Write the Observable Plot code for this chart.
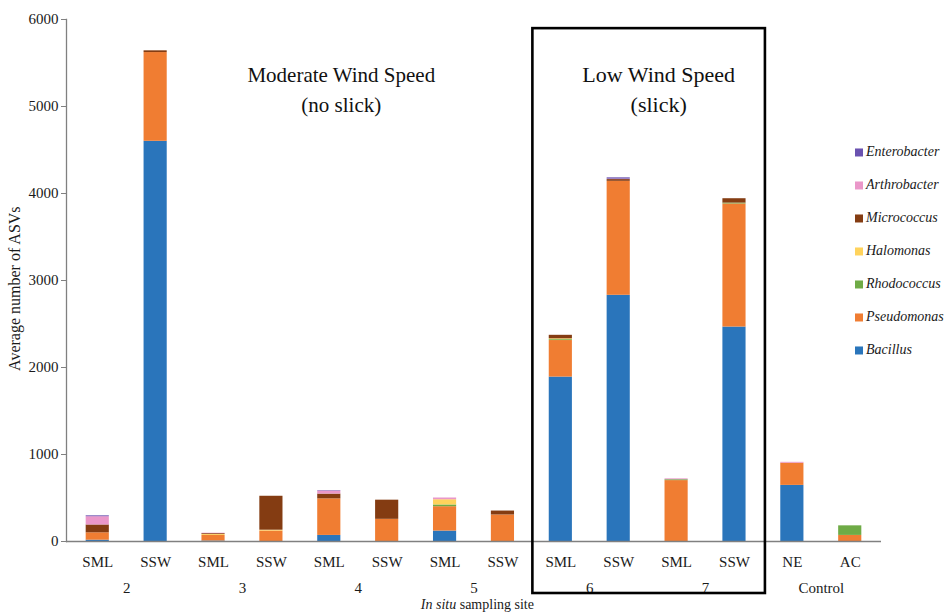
<!DOCTYPE html>
<html>
<head>
<meta charset="utf-8">
<script src="https://cdn.jsdelivr.net/npm/d3@7"></script>
<script src="https://cdn.jsdelivr.net/npm/@observablehq/plot@0.6"></script>
<style>
  html, body { margin: 0; padding: 0; background: #fff; }
  #chart svg { display: block; }
  #chart svg text, #chart svg tspan { font-family: 'Liberation Serif', serif !important; }
</style>
</head>
<body>
<div id="chart"></div>
<script>
// ---- Data ----
const samples = ["2-SML","2-SSW","3-SML","3-SSW","4-SML","4-SSW","5-SML","5-SSW","6-SML","6-SSW","7-SML","7-SSW","C-NE","C-AC"];
const sampleLabels = ["SML","SSW","SML","SSW","SML","SSW","SML","SSW","SML","SSW","SML","SSW","NE","AC"];
const siteLabels = ["2","3","4","5","6","7","Control"];
const siteFirst = ["2-SML","3-SML","4-SML","5-SML","6-SML","7-SML","C-NE"];
const genera = ["Bacillus","Pseudomonas","Rhodococcus","Halomonas","Micrococcus","Arthrobacter","Enterobacter"];
const colors = ["#2a75bb","#f07d32","#6fab46","#ffd35c","#843c12","#ea97c9","#6a52b0"];

const bacillus     = [15, 4600, 5, 0, 70, 0, 120, 0, 1890, 2830, 0, 2465, 645, 0];
const pseudomonas  = [85, 1020, 65, 120, 420, 255, 280, 305, 420, 1310, 700, 1415, 255, 70];
const rhodococcus  = [0, 0, 0, 0, 0, 0, 20, 0, 10, 0, 10, 10, 0, 110];
const halomonas    = [0, 0, 10, 10, 0, 0, 60, 0, 10, 0, 0, 0, 0, 0];
const micrococcus  = [90, 20, 10, 390, 55, 220, 0, 45, 40, 20, 0, 50, 0, 0];
const arthrobacter = [95, 0, 5, 0, 35, 0, 20, 0, 0, 5, 10, 0, 10, 0];
const enterobacter = [10, 0, 0, 0, 5, 0, 0, 0, 0, 15, 0, 0, 0, 0];
const yTicks = [0, 1000, 2000, 3000, 4000, 5000, 6000];

const seriesValues = [bacillus, pseudomonas, rhodococcus, halomonas, micrococcus, arthrobacter, enterobacter];
const rows = [];
genera.forEach((g, gi) => samples.forEach((s, si) => rows.push({sample: s, genus: g, value: seriesValues[gi][si]})));

const labelOf = new Map(samples.map((s, i) => [s, sampleLabels[i]]));
const groups = siteLabels.map((l, i) => ({x: siteFirst[i], label: l}));

const W = 946, H = 612;
const mL = 66, mR = 65, mT = 19, mB = 71;
const step = (W - mL - mR) / (14 - 0.6 + 2 * 0.34);
const font = "Liberation Serif";

const plot = Plot.plot({
  width: W, height: H,
  marginLeft: mL, marginRight: mR, marginTop: mT, marginBottom: mB,
  style: {fontSize: "15px", color: "#1a1a1a", background: "#fff"},
  x: {domain: samples, paddingInner: 0.6, paddingOuter: 0.34, round: false, label: null},
  y: {domain: [0, 6000], ticks: yTicks, label: null},
  color: {domain: genera, range: colors},
  marks: [
    Plot.barY(rows, {x: "sample", y: "value", fill: "genus", order: genera}),
    Plot.axisY({ticks: yTicks, tickSize: 5, tickPadding: 3, stroke: "#808080", fontSize: 15, fontFamily: font, tickFormat: d => String(d), label: null}),
    Plot.frame({anchor: "left", stroke: "#808080", strokeWidth: 1.3}),
    Plot.axisX({tickSize: 0, tickPadding: 15, tickFormat: d => labelOf.get(d), fontSize: 15, fontFamily: font, label: null}),
    Plot.ruleY([0], {stroke: "#808080", strokeWidth: 1.3}),
    Plot.text(groups, {x: "x", text: "label", frameAnchor: "bottom", dx: step / 2, dy: 51, fontSize: 15, fontFamily: font, fill: "#1a1a1a"}),
    Plot.text(["Moderate Wind Speed\n(no slick)"], {x: () => "4-SML", y: () => 5220, dx: 12, text: d => d, fontSize: 21, fontFamily: font, lineHeight: 1.42, fill: "#111"}),
    Plot.text(["Low Wind Speed\n(slick)"], {x: () => "6-SSW", y: () => 5220, dx: 40, text: d => d, fontSize: 22, fontFamily: font, lineHeight: 1.36, fill: "#111"})
  ]
});

document.getElementById("chart").appendChild(plot);

// Annotations positioned through the plot's own scales
const svg = d3.select(plot);
const xs = plot.scale("x"), ys = plot.scale("y");
const bw = xs.bandwidth, gap = xs.step - xs.bandwidth;
const boxL = xs.apply("6-SML") - gap / 2 + 1;
const boxR = xs.apply("7-SSW") + bw + gap / 2 + 2;
const boxT = ys.apply(5895);
const boxB = ys.apply(0) + 52;
svg.append("rect")
  .attr("x", boxL).attr("y", boxT)
  .attr("width", boxR - boxL).attr("height", boxB - boxT)
  .attr("fill", "none").attr("stroke", "#000").attr("stroke-width", 2.6);

// y-axis title
svg.append("text")
  .attr("transform", `translate(16,${ys.apply(2900)}) rotate(-90)`)
  .attr("text-anchor", "middle").attr("dominant-baseline", "middle")
  .attr("font-family", font).attr("font-size", 16).attr("fill", "#1a1a1a")
  .text("Average number of ASVs");

// x-axis title
const xt = svg.append("text")
  .attr("x", (xs.apply("5-SSW") + xs.apply("6-SML") + bw) / 2 - 54).attr("y", H - 3)
  .attr("text-anchor", "middle")
  .attr("font-family", font).attr("font-size", 14).attr("fill", "#1a1a1a");
xt.append("tspan").attr("font-style", "italic").text("In situ");
xt.append("tspan").text(" sampling site");

// legend (top = Enterobacter)
const legendOrder = genera.slice().reverse();
const lg = svg.append("g").attr("font-family", font).attr("font-size", 14).attr("font-style", "italic").attr("text-anchor", "start");
legendOrder.forEach((g, i) => {
  const yy = ys.apply(4460) + i * 33;
  lg.append("rect").attr("x", 855).attr("y", yy - 4.5).attr("width", 8).attr("height", 8)
    .attr("fill", colors[genera.indexOf(g)]);
  lg.append("text").attr("x", 866).attr("y", yy).attr("dominant-baseline", "middle")
    .attr("text-anchor", "start").attr("fill", "#1a1a1a").text(g);
});
</script>
</body>
</html>
